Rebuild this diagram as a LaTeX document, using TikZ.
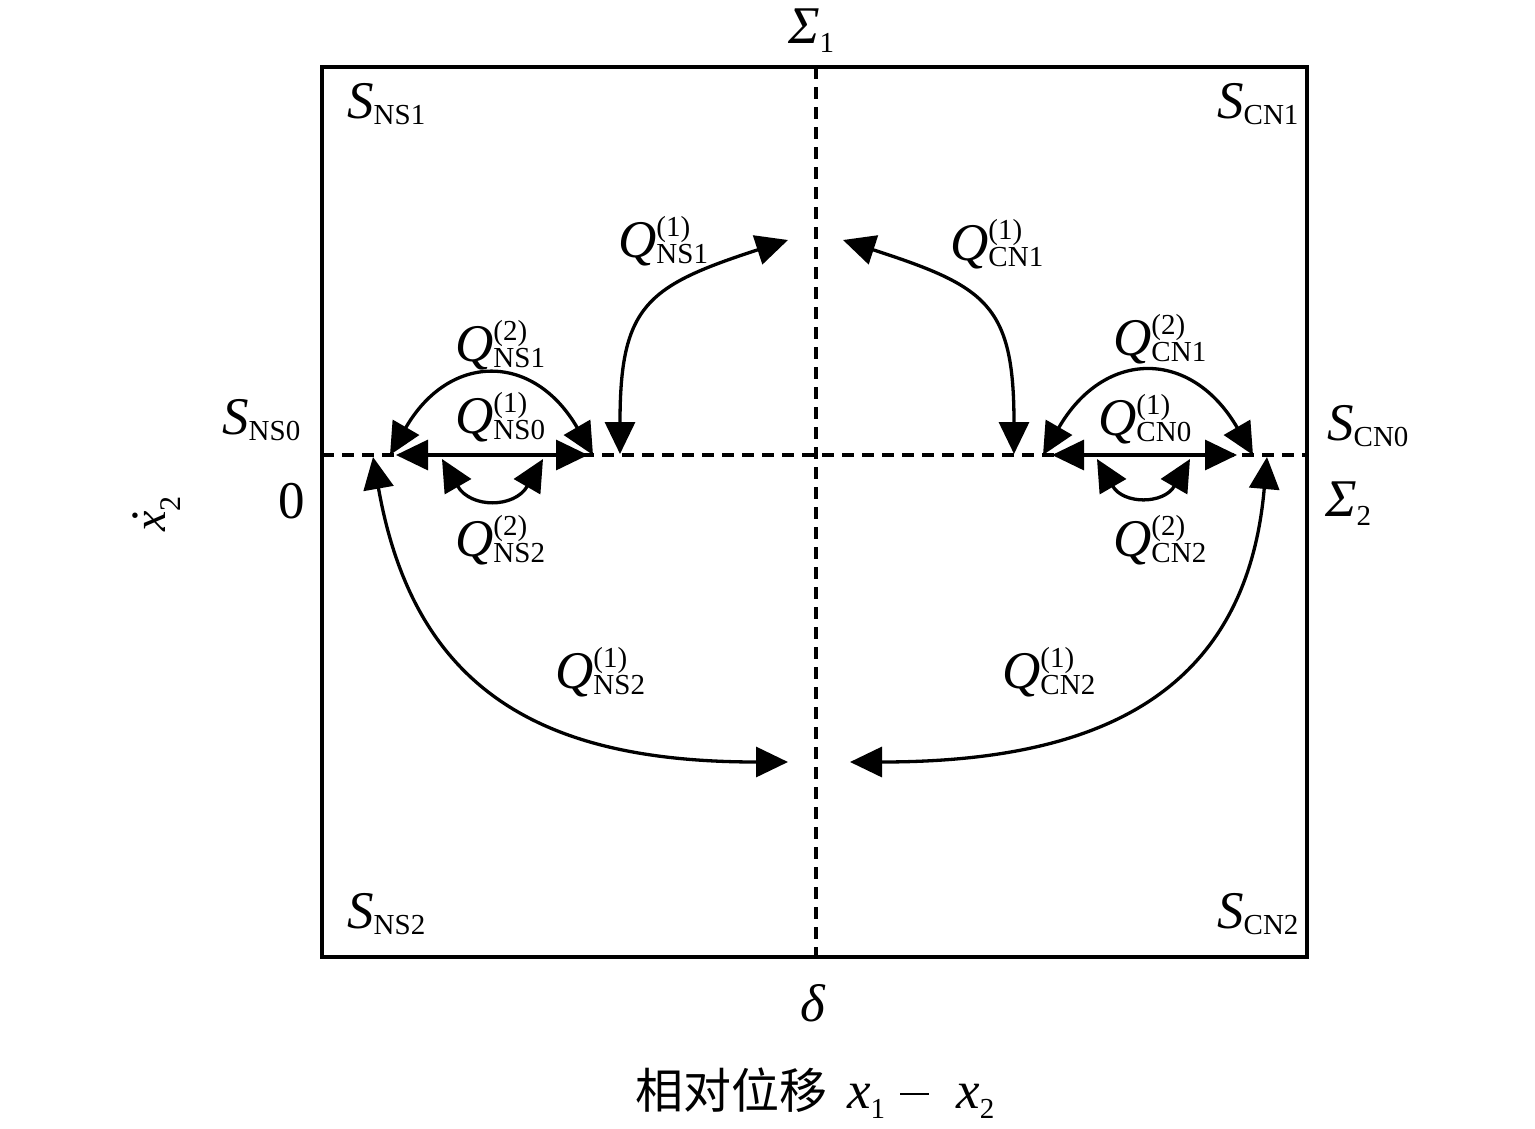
\documentclass[tikz,border=0pt]{standalone}
\usepackage{fontspec}
\setmainfont{Liberation Serif}
\newfontfamily\cjk{Noto Sans CJK SC}
\usetikzlibrary{arrows.meta}
\newcommand\ssz{\fontsize{29}{29}\selectfont}
\newcommand\subs[1]{\raisebox{-6pt}{\ssz #1}}
\newcommand\supsub[2]{\rlap{\raisebox{21pt}{\ssz #1}}\subs{#2}}
\newcommand\Qlab[2]{\textit{Q}\supsub{(#1)}{#2}}
\newcommand\Slab[1]{\textit{S}\subs{#1}}
\newcommand\xdotlab{\makebox[0pt][l]{\hspace{10pt}\raisebox{28pt}{.}}\textit{x}\raisebox{-15pt}{\fontsize{30}{30}\selectfont 2}}
\begin{document}
\begin{tikzpicture}[x=1pt,y=1pt,
  lbl/.style={anchor=base west, inner sep=0pt, font=\fontsize{53}{60}\selectfont},
  frame/.style={line width=3.3pt},
  dashline/.style={line width=3.1pt, dash pattern=on 12pt off 8pt},
  arr/.style={line width=3.3pt, {Triangle[length=32pt,width=30pt]}-{Triangle[length=32pt,width=30pt]}}]
\useasboundingbox (0,0) rectangle (1535,-1128);
% axes
\coordinate (vtop) at (816,-67);
\coordinate (vbot) at (816,-957);
\coordinate (hl) at (322,-455);
\coordinate (hr) at (1307,-455);
\draw[dashline] (vtop) -- (vbot);
\draw[dashline] (hl) -- (hr);
\draw[frame] (322,-67) rectangle (1307,-957);
% endpoints
\coordinate (a1s) at (620,-454); \coordinate (a1e) at (788,-240);
\coordinate (b1s) at (1014,-454); \coordinate (b1e) at (843,-240);
\coordinate (c1s) at (373,-457); \coordinate (c1e) at (788,-762);
\coordinate (d1s) at (1267,-457); \coordinate (d1e) at (850,-762);
\coordinate (e1s) at (390,-455); \coordinate (e1e) at (593,-455);
\coordinate (f1s) at (396,-455); \coordinate (f1e) at (588,-455);
\coordinate (g1s) at (442,-459); \coordinate (g1e) at (543,-459);
\coordinate (e2s) at (1043,-455); \coordinate (e2e) at (1253,-455);
\coordinate (f2s) at (1052,-455); \coordinate (f2e) at (1237,-455);
\coordinate (g2s) at (1097,-459); \coordinate (g2e) at (1190,-459);
% arrows
\draw[arr] (a1s) to[out=90,in=198,looseness=1.4] (a1e);
\draw[arr] (b1s) to[out=90,in=-18,looseness=1.4] (b1e);
\draw[arr] (c1s) to[out=-80,in=180,looseness=1.2] (c1e);
\draw[arr] (d1s) to[out=-95,in=0,looseness=1.2] (d1e);
\draw[arr] (e1s) to[out=60,in=120,looseness=1.5] (e1e);
\draw[arr] (f1s) -- (f1e);
\draw[arr] (g1s) to[out=-60,in=-120,looseness=1.45] (g1e);
\draw[arr] (e2s) to[out=60,in=120,looseness=1.5] (e2e);
\draw[arr] (f2s) -- (f2e);
\draw[arr] (g2s) to[out=-60,in=-120,looseness=1.45] (g2e);
% labels
\node[lbl] (sig1) at (788,-43) {\textit{Σ}\raisebox{-9pt}{\ssz 1}};
\node[lbl] (sns1) at (347,-118) {\Slab{NS1}};
\node[lbl] (scn1) at (1217,-118) {\Slab{CN1}};
\node[lbl] (sns2) at (347,-928) {\Slab{NS2}};
\node[lbl] (scn2) at (1217,-928) {\Slab{CN2}};
\node[lbl] (sns0) at (222,-434) {\Slab{NS0}};
\node[lbl] (scn0) at (1327,-440) {\Slab{CN0}};
\node[lbl] (sig2) at (1325,-516) {\textit{Σ}\raisebox{-9pt}{\ssz 2}};
\node[lbl] (zero) at (278,-518) {0};
\node[lbl] (delta) at (800,-1021) {\textit{δ}};
\node[lbl, font=\fontsize{46}{50}\selectfont, rotate=90] (xd) at (165,-532) {\xdotlab};
\node[lbl] (q1) at (618,-257) {\Qlab{1}{NS1}};
\node[lbl] (q2) at (950,-260) {\Qlab{1}{CN1}};
\node[lbl] (q3) at (455,-361) {\Qlab{2}{NS1}};
\node[lbl] (q4) at (455,-433) {\Qlab{1}{NS0}};
\node[lbl] (q5) at (455,-556) {\Qlab{2}{NS2}};
\node[lbl] (q6) at (1113,-355) {\Qlab{2}{CN1}};
\node[lbl] (q7) at (1098,-435) {\Qlab{1}{CN0}};
\node[lbl] (q8) at (1113,-556) {\Qlab{2}{CN2}};
\node[lbl] (q9) at (555,-688) {\Qlab{1}{NS2}};
\node[lbl] (q10) at (1002,-688) {\Qlab{1}{CN2}};
\node[lbl] (xlab) at (635,-1108) {{\cjk\fontsize{48}{50}\selectfont 相对位移}\hspace{20pt}\textit{x}\raisebox{-10pt}{\ssz 1}\hspace{15pt}\rule[13pt]{29pt}{2.4pt}\hspace{27pt}\textit{x}\raisebox{-10pt}{\ssz 2}};
\end{tikzpicture}
\end{document}
